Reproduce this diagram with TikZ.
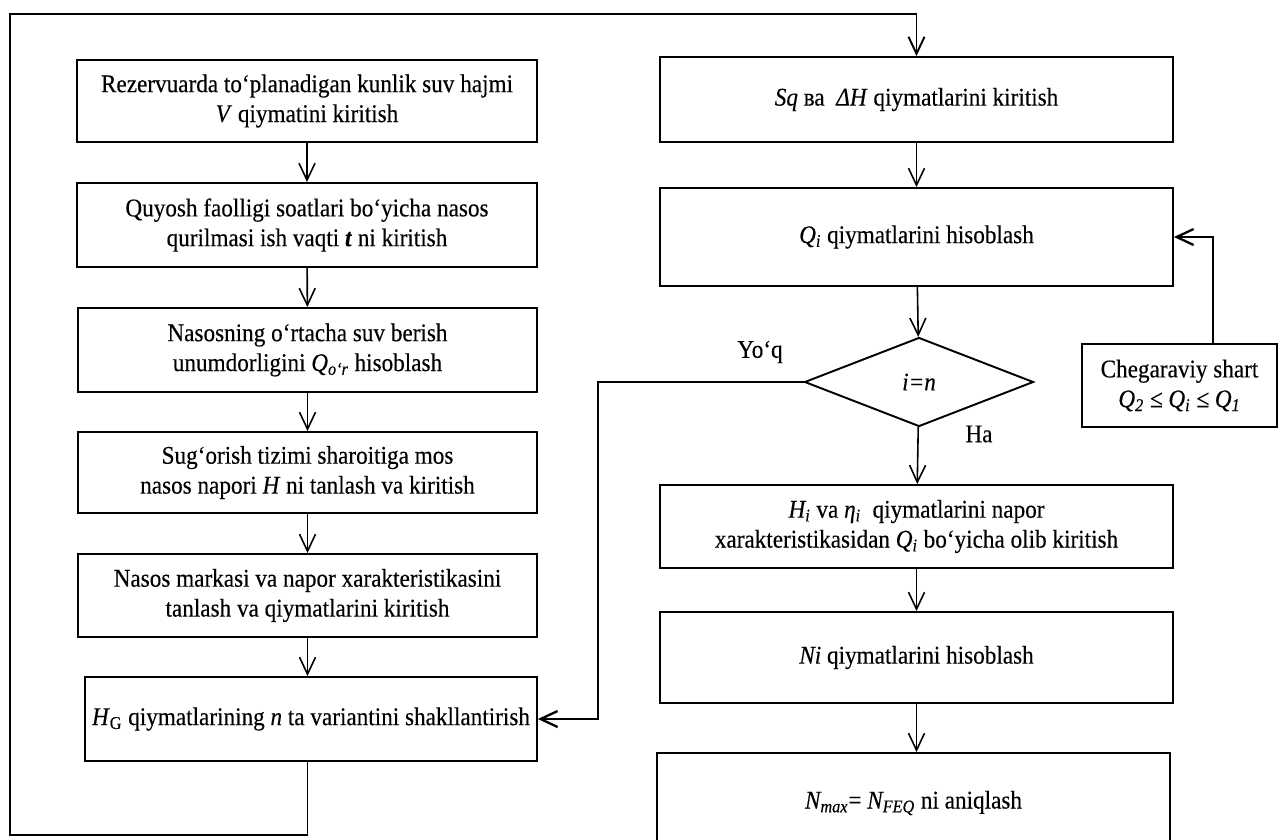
\documentclass[tikz,border=0pt]{standalone}
\usepackage{fontspec}
\setmainfont[FakeStretch=0.91, FakeBold=0.3]{Liberation Serif}
\usetikzlibrary{shapes.geometric,arrows.meta}

\begin{document}
\begin{tikzpicture}[x=0.02cm, y=-0.02cm,
  block/.style={rectangle, draw, line width=1.1pt, align=center, inner sep=0pt,
    font=\fontsize{14.5}{17}\selectfont},
  decision/.style={diamond, draw, line width=1.1pt, inner sep=0pt,
    minimum width=4.58cm, minimum height=1.78cm, font=\fontsize{14.5}{17}\selectfont},
  arr/.style={-{Straight Barb[length=3.4mm,width=3.2mm]}, line width=0.9pt}]
  \useasboundingbox (0,0) rectangle (1283,839);
  % Left column
  \node (v) [block, minimum width=9.2cm, minimum height=1.64cm] at (307,101)
    {Rezervuarda to‘planadigan kunlik suv hajmi\\ \textit{V} qiymatini kiritish};
  \node (t) [block, minimum width=9.2cm, minimum height=1.68cm] at (307,225)
    {Quyosh faolligi soatlari bo‘yicha nasos\\ qurilmasi ish vaqti \textbf{\textit{t}} ni kiritish};
  \node (qor) [block, minimum width=9.2cm, minimum height=1.68cm] at (307.5,350)
    {Nasosning o‘rtacha suv berish\\ unumdorligini \textit{Q\textsubscript{o‘r}} hisoblash};
  \node (h) [block, minimum width=9.2cm, minimum height=1.62cm] at (307.5,472.5)
    {Sug‘orish tizimi sharoitiga mos\\ nasos napori \textit{H} ni tanlash va kiritish};
  \node (marka) [block, minimum width=9.2cm, minimum height=1.66cm] at (307.5,595.5)
    {Nasos markasi va napor xarakteristikasini\\ tanlash va qiymatlarini kiritish};
  \node (hg) [block, minimum width=9.04cm, minimum height=1.68cm] at (311,719)
    {\textit{H}\textsubscript{G} qiymatlarining \textit{n} ta variantini shakllantirish};
  % Right column
  \node (sq) [block, minimum width=10.26cm, minimum height=1.7cm] at (916.5,99.5)
    {\textit{Sq} ва \ \textit{ΔH} qiymatlarini kiritish};
  \node (qi) [block, minimum width=10.26cm, minimum height=1.96cm] at (916.5,237)
    {\textit{Q\textsubscript{i}} qiymatlarini hisoblash};
  \node (dec) [decision] at (919,382) {\textit{i=n}};
  \node (hi) [block, minimum width=10.26cm, minimum height=1.66cm] at (916.5,526.5)
    {\textit{H\textsubscript{i}} va \textit{η\textsubscript{i}} \ qiymatlarini napor\\ xarakteristikasidan \textit{Q\textsubscript{i}} bo‘yicha olib kiritish};
  \node (ni) [block, minimum width=10.26cm, minimum height=1.82cm] at (916.5,657.5)
    {\textit{Ni} qiymatlarini hisoblash};
  \node (nmax) [block, minimum width=10.26cm, minimum height=2cm] at (913.5,803)
    {\textit{N\textsubscript{max}}= \textit{N\textsubscript{FEQ}} ni aniqlash};
  \node (shart) [block, minimum width=3.9cm, minimum height=1.66cm] at (1179.5,385.5)
    {Chegaraviy shart\\ \textit{Q\textsubscript{2} ≤ Q\textsubscript{i} ≤ Q\textsubscript{1}}};
  % Labels
  \node (yoq) [font=\fontsize{14.5}{17}\selectfont] at (760,352) {Yo‘q};
  \node (ha) [font=\fontsize{14.5}{17}\selectfont] at (979,434) {Ha};
  % Helper points
  \coordinate (top) at (0,14);
  \coordinate (bot) at (10,835);
  \coordinate (yoqx) at (598,0);
  \coordinate (cx) at (1213,0);
  % Arrows
  \draw[arr] (v) -- (t);
  \draw[arr] (t) -- (qor);
  \draw[arr] (qor) -- (h);
  \draw[arr] (h) -- (marka);
  \draw[arr] (marka.south) -- (marka.south |- hg.north);
  \draw[arr] (sq) -- (qi);
  \draw[arr] (qi) -- (dec);
  \draw[arr] (dec) -- (hi);
  \draw[arr] (hi) -- (ni);
  \draw[arr] (ni.south) -- (ni.south |- nmax.north);
  % Loops
  \draw[arr, line width=1.1pt] (marka.south |- hg.south) |- (bot) |- (sq.north |- top) -- (sq.north);
  \draw[arr, line width=1.3pt] (dec.west) -| (yoqx |- hg.east) -- (hg.east);
  \draw[arr, line width=1.3pt] (cx |- shart.north) |- (qi.east);
\end{tikzpicture}
\end{document}
